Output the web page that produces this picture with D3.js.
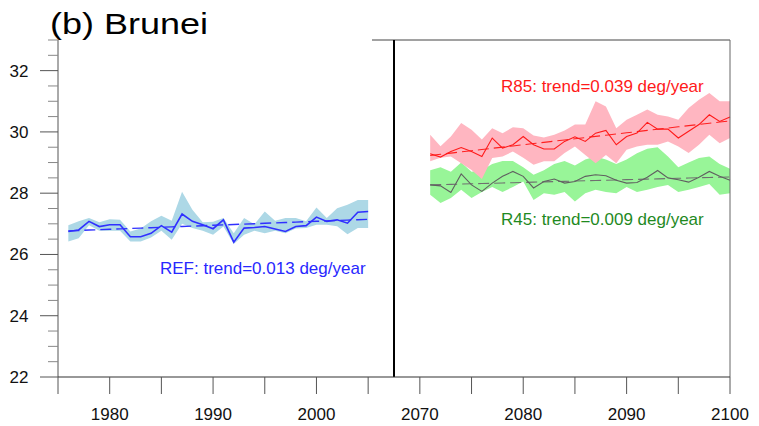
<!DOCTYPE html>
<html>
<head>
<meta charset="utf-8">
<script src="https://cdn.jsdelivr.net/npm/d3@7"></script>
<style>
  html, body { margin: 0; padding: 0; background: #fff; }
  svg { display: block; font-family: "Liberation Sans", Arial, Helvetica, sans-serif; }
</style>
</head>
<body>
<svg id="chart" width="759" height="426"></svg>
<script>
// Historical reference period (1976-2005)
const refYears = d3.range(1976, 2006);
const refMean = [26.75, 26.80, 27.08, 26.91, 26.97, 26.97, 26.58, 26.58, 26.69, 26.94,
                 26.73, 27.32, 27.08, 26.97, 26.84, 27.13, 26.40, 26.86, 26.88, 26.91,
                 26.83, 26.75, 26.91, 26.94, 27.22, 27.08, 27.13, 27.02, 27.38, 27.40];
const refHigh = [26.95, 27.08, 27.19, 27.05, 27.15, 27.13, 26.75, 26.85, 27.08, 27.26,
                 27.10, 28.05, 27.46, 27.05, 27.07, 27.19, 26.69, 27.19, 26.99, 27.40,
                 27.10, 27.19, 27.19, 27.08, 27.53, 27.19, 27.51, 27.62, 27.78, 27.78];
const refLow  = [26.42, 26.53, 26.95, 26.77, 26.77, 26.77, 26.42, 26.42, 26.55, 26.77,
                 26.48, 27.00, 26.86, 26.77, 26.64, 26.91, 26.34, 26.64, 26.77, 26.69,
                 26.77, 26.69, 26.85, 26.86, 26.97, 26.97, 26.92, 26.66, 26.86, 26.86];

// Future period (2071-2100)
const futYears = d3.range(2071, 2101);
const r85Mean = [29.29, 29.18, 29.36, 29.49, 29.36, 29.20, 29.80, 29.47, 29.58, 29.85,
                 29.58, 29.44, 29.44, 29.69, 29.84, 29.69, 29.96, 30.05, 29.58, 29.85,
                 29.96, 30.31, 30.09, 30.09, 29.80, 30.02, 30.24, 30.56, 30.34, 30.49];
const r85High = [29.91, 29.53, 29.85, 30.29, 30.07, 29.75, 30.12, 29.96, 30.15, 30.12,
                 29.88, 29.82, 29.91, 30.05, 30.24, 30.24, 31.00, 30.83, 30.12, 30.40,
                 30.56, 30.73, 30.56, 30.50, 30.40, 30.78, 31.05, 31.27, 31.00, 31.00];
const r85Low  = [29.04, 29.16, 29.20, 28.98, 28.76, 28.46, 29.15, 29.20, 29.36, 29.16,
                 28.93, 29.04, 29.04, 29.31, 29.52, 29.25, 28.98, 29.25, 28.98, 29.42,
                 29.52, 29.58, 29.58, 29.69, 29.52, 29.31, 29.58, 29.91, 29.63, 29.80];

const r45Mean = [28.27, 28.24, 28.02, 28.63, 28.27, 28.06, 28.33, 28.55, 28.71, 28.55,
                 28.17, 28.38, 28.46, 28.33, 28.38, 28.55, 28.60, 28.57, 28.42, 28.33,
                 28.35, 28.52, 28.74, 28.50, 28.44, 28.36, 28.52, 28.71, 28.55, 28.42];
const r45High = [28.75, 28.85, 28.70, 29.00, 28.70, 28.75, 28.95, 29.05, 29.05, 28.85,
                 28.60, 28.75, 28.95, 29.05, 28.90, 29.10, 29.20, 29.10, 28.95, 29.10,
                 29.30, 29.45, 29.50, 29.20, 28.85, 29.00, 29.15, 29.20, 28.95, 28.80];
const r45Low  = [27.95, 27.68, 27.84, 28.11, 27.84, 28.04, 28.20, 28.04, 28.20, 28.38,
                 27.78, 28.00, 27.95, 28.04, 27.73, 28.00, 28.11, 28.04, 28.00, 28.20,
                 28.04, 28.11, 28.20, 28.27, 28.04, 28.11, 28.20, 28.30, 27.95, 28.00];

// Linear trends: value at first year and slope (deg/year)
const trendNames = ["REF", "R85", "R45"];
const trendStart = [26.77, 29.23, 28.27];
const trendSlope = [0.013, 0.039, 0.009];

// Axis ticks
const yMajorTicks = [22, 24, 26, 28, 30, 32];
const xTicksRef = [1975, 1980, 1985, 1990, 1995, 2000, 2005];
const xTicksFut = [2070, 2075, 2080, 2085, 2090, 2095, 2100];
const xLabels = [1980, 1990, 2000, 2070, 2080, 2090, 2100];

const svg = d3.select("#chart");
const plotLeft = 58, plotRight = 730, plotTop = 40, plotBottom = 377;

// Broken time axis: both periods share one axis, split at the divider
const x = d3.scaleLinear()
  .domain([1975, 2007.5, 2067.5, 2100])
  .range([plotLeft, 394, 394, plotRight]);
const y = d3.scaleLinear().domain([22, 33]).range([plotBottom, plotTop]);

const band = (lo, hi, yrs) => d3.area()
  .x((d, i) => x(yrs[i])).y0((d, i) => y(lo[i])).y1((d, i) => y(hi[i]))(yrs);
const line = (vals, yrs) => d3.line().x((d, i) => x(yrs[i])).y(d => y(d))(vals);
const trend = (k, yrs) => {
  const vals = yrs.map(yr => trendStart[k] + trendSlope[k] * (yr - yrs[0]));
  return line(vals, yrs);
};

const g = svg.append("g");

// Spread bands
g.append("path").attr("d", band(refLow, refHigh, refYears)).attr("fill", "#add8e6");
g.append("path").attr("d", band(r45Low, r45High, futYears)).attr("fill", "#98f598");
g.append("path").attr("d", band(r85Low, r85High, futYears)).attr("fill", "#ffb6c1");

// Trend lines (dashed)
const dash = "11,5";
g.append("path").attr("d", trend(0, refYears)).attr("fill", "none")
  .attr("stroke", "#3030ff").attr("stroke-width", 1.4).attr("stroke-dasharray", dash);
g.append("path").attr("d", trend(2, futYears)).attr("fill", "none")
  .attr("stroke", "#707070").attr("stroke-width", 1.1).attr("stroke-dasharray", dash);
g.append("path").attr("d", trend(1, futYears)).attr("fill", "none")
  .attr("stroke", "#ff2020").attr("stroke-width", 1.1).attr("stroke-dasharray", dash);

// Ensemble means
g.append("path").attr("d", line(refMean, refYears)).attr("fill", "none")
  .attr("stroke", "#3030ff").attr("stroke-width", 1.6);
g.append("path").attr("d", line(r45Mean, futYears)).attr("fill", "none")
  .attr("stroke", "#606060").attr("stroke-width", 1.1);
g.append("path").attr("d", line(r85Mean, futYears)).attr("fill", "none")
  .attr("stroke", "#ff1a1a").attr("stroke-width", 1.1);

// Frame pieces
g.append("line").attr("x1", 372).attr("x2", plotRight).attr("y1", plotTop).attr("y2", plotTop)
  .attr("stroke", "#444").attr("stroke-width", 1);
g.append("line").attr("x1", plotRight).attr("x2", plotRight).attr("y1", plotTop).attr("y2", plotBottom)
  .attr("stroke", "#666").attr("stroke-width", 1);
g.append("line").attr("x1", x(2007.5)).attr("x2", x(2007.5)).attr("y1", plotTop).attr("y2", plotBottom)
  .attr("stroke", "#000").attr("stroke-width", 2);

// Y axis
const yAxis = svg.append("g");
yAxis.append("line").attr("x1", plotLeft).attr("x2", plotLeft).attr("y1", plotTop).attr("y2", plotBottom)
  .attr("stroke", "#555").attr("stroke-width", 1);
d3.range(22, 33.01, 0.5).forEach(v => {
  const major = yMajorTicks.includes(v);
  yAxis.append("line")
    .attr("x1", major ? plotLeft - 18 : plotLeft - 10).attr("x2", plotLeft)
    .attr("y1", y(v)).attr("y2", y(v))
    .attr("stroke", major ? "#555" : "#888").attr("stroke-width", 1);
});
yAxis.selectAll("text").data(yMajorTicks).join("text")
  .attr("x", 28.5).attr("y", d => y(d) + 6)
  .attr("text-anchor", "end").attr("font-size", 17).attr("fill", "#111")
  .text(d => d);

// X axis
const xAxis = svg.append("g");
xAxis.append("line").attr("x1", plotLeft).attr("x2", plotRight).attr("y1", plotBottom).attr("y2", plotBottom)
  .attr("stroke", "#333").attr("stroke-width", 1.2);
xTicksRef.concat(xTicksFut).forEach(t => {
  xAxis.append("line").attr("x1", x(t)).attr("x2", x(t))
    .attr("y1", plotBottom).attr("y2", plotBottom + 17)
    .attr("stroke", "#555").attr("stroke-width", 1);
});
xAxis.selectAll("text").data(xLabels).join("text")
  .attr("x", d => x(d)).attr("y", 420)
  .attr("text-anchor", "middle").attr("font-size", 17).attr("fill", "#111")
  .text(d => d);

// Title
svg.append("text").attr("x", 50).attr("y", 34)
  .attr("font-size", 30).attr("fill", "#000")
  .attr("textLength", 158).attr("lengthAdjust", "spacingAndGlyphs")
  .text("(b) Brunei");

// Trend annotations
const fmt = d3.format(".3f");
const notes = [
  { k: 0, x: 160, y: 274, color: "#2828ff" },
  { k: 1, x: 501, y: 92, color: "#ff1a1a" },
  { k: 2, x: 501, y: 225, color: "#1f8a1f" }
];
notes.forEach(n => {
  svg.append("text").attr("x", n.x).attr("y", n.y)
    .attr("font-size", 17).attr("fill", n.color)
    .text(`${trendNames[n.k]}: trend=${fmt(trendSlope[n.k])} deg/year`);
});
</script>
</body>
</html>
